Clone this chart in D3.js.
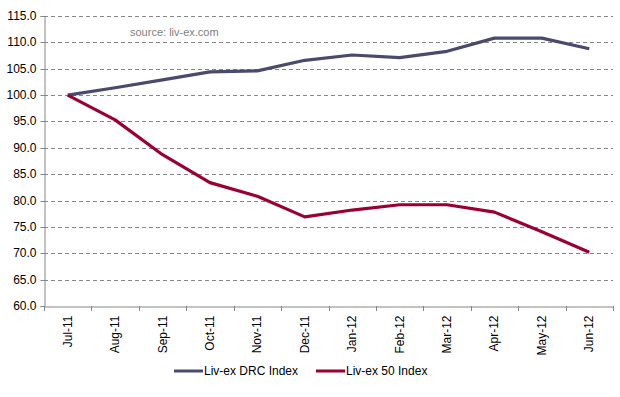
<!DOCTYPE html>
<html>
<head>
<meta charset="utf-8">
<script src="https://cdn.jsdelivr.net/npm/d3@7"></script>
<style>
    body { margin: 0; background: #fff; }
    svg { font-family: "Liberation Sans", Arial, sans-serif; }
</style>
</head>
<body>
<div id="chart"></div>
<script>
    const months = ["Jul-11", "Aug-11", "Sep-11", "Oct-11", "Nov-11", "Dec-11",
                    "Jan-12", "Feb-12", "Mar-12", "Apr-12", "May-12", "Jun-12"];
    const drcIndex = [100.0, 101.4, 102.9, 104.4, 104.6, 106.6, 107.6, 107.1, 108.3, 110.8, 110.8, 108.8];
    const livex50Index = [100.0, 95.3, 88.7, 83.4, 80.8, 76.9, 78.2, 79.2, 79.2, 77.8, 74.1, 70.2];
    const yTicks = [60, 65, 70, 75, 80, 85, 90, 95, 100, 105, 110, 115];

    const series = [
        { name: "Liv-ex DRC Index", values: drcIndex, color: "#4a4a6c" },
        { name: "Liv-ex 50 Index", values: livex50Index, color: "#9a0036" }
    ];

    let width = 620, height = 397;
    const margin = { left: 44, right: 7, top: 16, bottom: 91 };

    const svg = d3.select("#chart")
        .append("svg")
        .attr("width", width)
        .attr("height", height);

    const x = d3.scaleBand()
        .domain(months)
        .range([margin.left, width - margin.right]);

    const y = d3.scaleLinear()
        .domain([60, 115])
        .range([height - margin.bottom, margin.top]);

    // dashed gridlines
    svg.append("g")
        .selectAll("line")
        .data(yTicks.filter(d => d > 60))
        .join("line")
        .attr("x1", margin.left)
        .attr("x2", width - margin.right)
        .attr("y1", d => Math.round(y(d)) + 0.5)
        .attr("y2", d => Math.round(y(d)) + 0.5)
        .attr("stroke", "#868686")
        .attr("stroke-dasharray", "4,3");

    // y axis
    const yAxis = svg.append("g")
        .attr("transform", `translate(${margin.left + 0.5},0)`)
        .call(d3.axisLeft(y).tickValues(yTicks).tickFormat(d3.format(".1f")).tickSize(4).tickPadding(4));
    yAxis.select(".domain").attr("stroke", "#868686");
    yAxis.selectAll(".tick line").attr("stroke", "#868686");
    yAxis.selectAll(".tick").attr("transform", d => `translate(0,${Math.round(y(d)) + 0.5})`);
    yAxis.selectAll("text").attr("font-size", 12).attr("fill", "#000")
        .attr("font-family", "Liberation Sans, Arial, sans-serif");

    // x axis
    const xAxis = svg.append("g")
        .attr("transform", `translate(0,${Math.round(y(60)) + 0.5})`)
        .call(d3.axisBottom(x).tickSize(0).tickPadding(0));
    xAxis.select(".domain").attr("stroke", "#868686");
    xAxis.selectAll(".tick text")
        .attr("font-size", 12)
        .attr("fill", "#000")
        .attr("font-family", "Liberation Sans, Arial, sans-serif")
        .attr("text-anchor", "end")
        .attr("dy", null)
        .attr("y", 0)
        .attr("transform", "translate(4,9) rotate(-90)");

    // x tick marks at band edges
    svg.append("g")
        .selectAll("line")
        .data(months.map((m, i) => x.range()[0] + i * x.step()).concat([x.range()[1]]))
        .join("line")
        .attr("x1", d => Math.round(d) + 0.5)
        .attr("x2", d => Math.round(d) + 0.5)
        .attr("y1", Math.round(y(60)))
        .attr("y2", Math.round(y(60)) + 5)
        .attr("stroke", "#868686");

    // lines
    const line = d3.line()
        .x((d, i) => x(months[i]) + x.bandwidth() / 2)
        .y(d => y(d));

    svg.append("g")
        .selectAll("path")
        .data(series)
        .join("path")
        .attr("d", d => line(d.values))
        .attr("fill", "none")
        .attr("stroke", d => d.color)
        .attr("stroke-width", 3.2)
        .attr("stroke-linejoin", "round");

    // source note
    svg.append("text")
        .attr("x", 130)
        .attr("y", 36)
        .attr("font-size", 11)
        .attr("fill", "#7f7f7f")
        .text("source: liv-ex.com");

    // legend
    const legendItems = [{ s: series[0], x: 174 }, { s: series[1], x: 316 }];
    const legend = svg.append("g")
        .selectAll("g")
        .data(legendItems)
        .join("g")
        .attr("transform", d => `translate(${d.x},371)`);
    legend.append("line")
        .attr("x1", 0).attr("x2", 29)
        .attr("stroke", d => d.s.color)
        .attr("stroke-width", 3);
    legend.append("text")
        .attr("x", 30)
        .attr("y", 4)
        .attr("font-size", 12)
        .text(d => d.s.name);
</script>
</body>
</html>
